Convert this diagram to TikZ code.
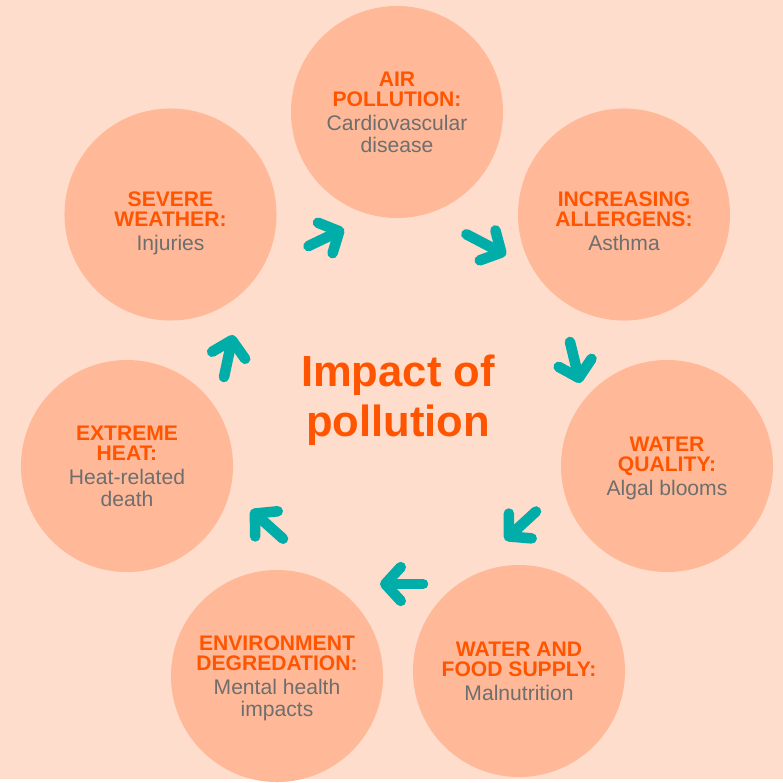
\documentclass[tikz,border=0pt]{standalone}
\usepackage{fontspec}
\setmainfont{Liberation Sans}
\usetikzlibrary{arrows.meta}
\definecolor{bgpeach}{HTML}{FEDDCC}
\definecolor{ringfill}{HTML}{FFB998}
\definecolor{hotorange}{HTML}{FF5500}
\definecolor{textgray}{HTML}{6E6E6E}
\definecolor{arrowteal}{HTML}{00ADA8}
\newcommand{\hazard}[2]{\textcolor{hotorange}{\bfseries #1}\\[-1.4pt]\textcolor{hotorange}{\bfseries #2}\\[1.4pt]}

\begin{document}
\begin{tikzpicture}[x=0.025cm, y=-0.025cm,
    impact/.style={circle, fill=ringfill, minimum size=5.3cm, inner sep=0pt, align=center, text=textgray, text depth=0pt, font=\fontsize{15}{15.6}\selectfont},
    flow/.style={draw=arrowteal, line width=7.5pt, line cap=round, -{Straight Barb[round, length=11pt, width=24pt]}}]
    \fill[bgpeach] (0,0) rectangle (783,779);
    \node[impact] (air) at (397,112) {\hazard{AIR}{POLLUTION:}Cardiovascular\\disease};
    \node[impact, text height=51pt] (allergens) at (624,214.5) {\hazard{INCREASING}{ALLERGENS:}Asthma};
    \node[impact] (water) at (667,466) {\hazard{WATER}{QUALITY:}Algal blooms};
    \node[impact] (food) at (519,671) {\hazard{WATER AND}{FOOD SUPPLY:}Malnutrition};
    \node[impact] (envir) at (277,676) {\hazard{ENVIRONMENT}{DEGREDATION:}Mental health\\impacts};
    \node[impact] (heat) at (127,466) {\hazard{EXTREME}{HEAT:}Heat-related\\death};
    \node[impact, text height=51pt] (weather) at (170.5,214.5) {\hazard{SEVERE}{WEATHER:}Injuries};
    \node[font=\fontsize{31}{35.4}\selectfont\bfseries, text=hotorange, align=center, text depth=0pt] (title) at (398,396) {Impact of\\pollution};
    \coordinate (t1) at (308.5,246); \coordinate (h1) at (344,229);
    \coordinate (t2) at (466.4,234.3); \coordinate (h2) at (506,255);
    \coordinate (t3) at (570,342); \coordinate (h3) at (580,383);
    \coordinate (t4) at (536,511.5); \coordinate (h4) at (505,540);
    \coordinate (t5) at (423,584); \coordinate (h5) at (380,584);
    \coordinate (t6) at (283,538.7); \coordinate (h6) at (251,510);
    \coordinate (t7) at (224,377); \coordinate (h7) at (233,335);
    \foreach \i in {1,...,7}
        \draw[flow] (t\i) -- (h\i);
\end{tikzpicture}
\end{document}
